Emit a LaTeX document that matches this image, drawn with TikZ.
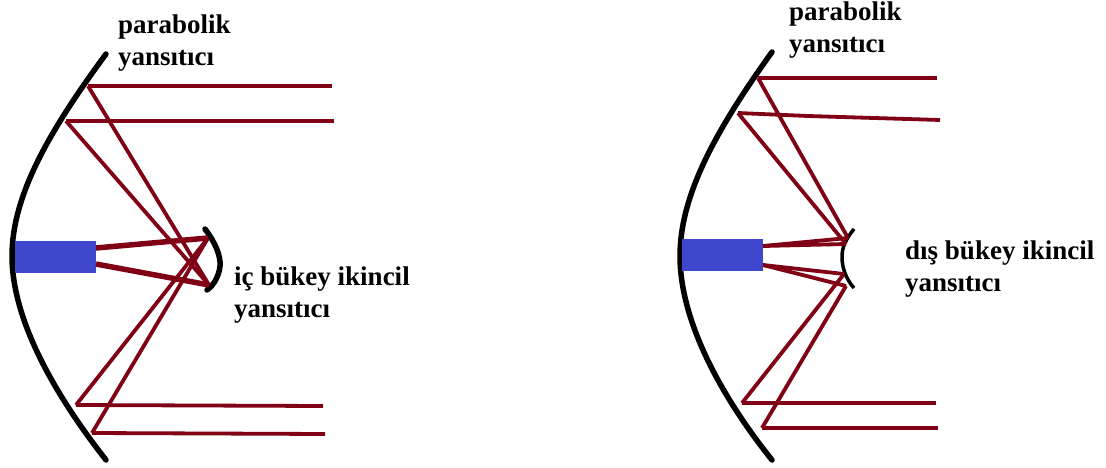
\documentclass[tikz,border=0pt]{standalone}
\usepackage{fontspec}
\setmainfont{Liberation Serif}
\usetikzlibrary{calc}
\definecolor{raycolor}{HTML}{800015}
\definecolor{feedcolor}{HTML}{3F48CC}
\tikzset{
    reflector/.style={line width=5.5pt, black, line cap=round},
    ray/.style={line width=3.8pt, raycolor},
    feedbox/.style={fill=feedcolor, draw=none, minimum width=81pt, minimum height=32pt, inner sep=0pt, outer sep=0pt},
    label/.style={font=\bfseries\fontsize{27}{32}\selectfont, align=left, anchor=north west, inner sep=0pt}
}

\begin{document}
\begin{tikzpicture}[x=1pt,y=-1pt]
    \useasboundingbox (0,0) rectangle (1106,468);

    % left antenna
    \coordinate (LT) at (106,54);
    \coordinate (LB) at (106,460);
    \coordinate (LA) at (88,86);
    \coordinate (LC) at (66,121);
    \coordinate (LD) at (76,405);
    \coordinate (LE) at (92,433);
    \coordinate (LU) at (208,238);
    \coordinate (LV) at (209,285);
    \draw[reflector] (LT) .. controls (50,130) and (12,195) .. (12,256) .. controls (12,320) and (55,395) .. (LB);
    \draw[reflector] (205,229) .. controls (215,242) and (221,256) .. (220,266) .. controls (219,276) and (214,285) .. (207,290);
    \node[feedbox] at (55.5,257) (LFeed) {};
    \draw[ray] (LA) -- (332,86);
    \draw[ray] (LC) -- (334,121);
    \draw[ray] (LD) -- (323,406);
    \draw[ray] (LE) -- (325,434);
    \draw[ray] (LA) -- (LV);
    \draw[ray] (LC) -- (LV);
    \draw[ray] (LD) -- (LU);
    \draw[ray] (LE) -- (LU);
    \draw[ray, line width=5.5pt] (LFeed.east |- 0,248) -- (LU);
    \draw[ray, line width=5.5pt] (LFeed.east |- 0,264) -- (LV);
    \node[label] at (118,15) (LTop) {parabolik\\yansıtıcı};
    \node[label] at (234,267) (LSec) {iç bükey ikincil\\yansıtıcı};

    % right antenna
    \coordinate (RT) at (772,52);
    \coordinate (RB) at (772,460);
    \coordinate (RA) at (758,78);
    \coordinate (RC) at (738,113);
    \coordinate (RD) at (742,403);
    \coordinate (RE) at (762,428);
    \coordinate (RU) at (848,238);
    \coordinate (RV) at (846,244);
    \coordinate (RW) at (844,274);
    \coordinate (RX) at (846,286);
    \draw[reflector] (RT) .. controls (716,130) and (680,195) .. (680,256) .. controls (680,320) and (720,395) .. (RB);
    \draw[line width=3.5pt, black] (854,229) .. controls (845,240) and (842,248) .. (842,257) .. controls (842,268) and (846,279) .. (854,288);
    \node[feedbox] at (722.5,255) (RFeed) {};
    \draw[ray] (RA) -- (937,78);
    \draw[ray] (RC) -- (808,116) -- (940,120);
    \draw[ray] (RD) -- (936,403);
    \draw[ray] (RE) -- (938,428);
    \draw[ray] (RA) -- (RU);
    \draw[ray] (RC) -- (RV);
    \draw[ray] (RD) -- (RW);
    \draw[ray] (RE) -- (RX);
    \draw[ray] (RFeed.east |- 0,246) -- (RU);
    \draw[ray] (RFeed.east |- 0,246) -- (RV);
    \draw[ray] (RFeed.east |- 0,265) -- (RW);
    \draw[ray] (RFeed.east |- 0,265) -- (RX);
    \node[label] at (789,2) (RTop) {parabolik\\yansıtıcı};
    \node[label] at (905,241) (RSec) {dış bükey ikincil\\yansıtıcı};
\end{tikzpicture}
\end{document}
